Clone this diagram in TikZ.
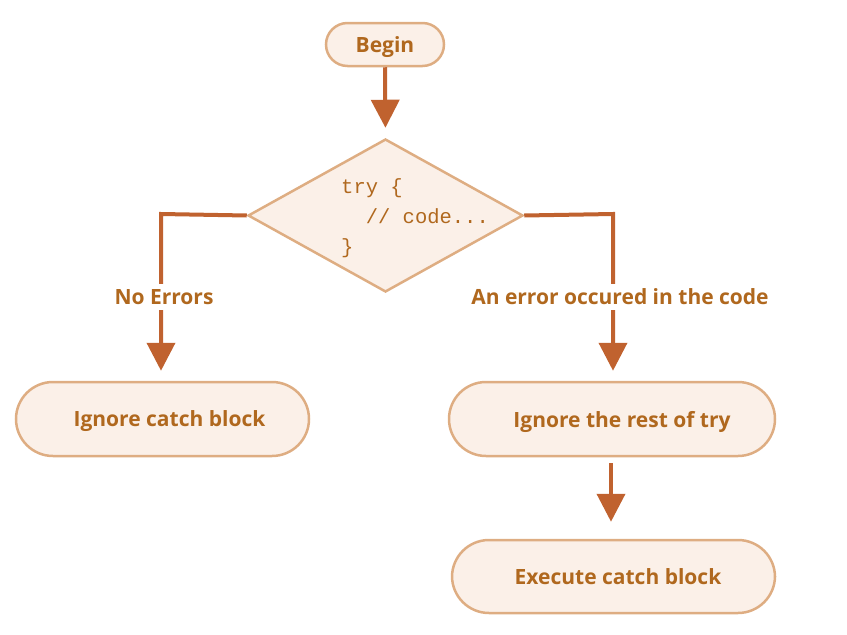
\documentclass[tikz,border=0pt]{standalone}
\usepackage{fontspec}
\setmainfont{Open Sans}
\setmonofont{Liberation Mono}
\usetikzlibrary{shapes.geometric,arrows.meta}
\definecolor{arrowc}{HTML}{C0622F}
\definecolor{borderc}{HTML}{DEAD82}
\definecolor{fillc}{HTML}{FBF0E8}
\definecolor{textc}{HTML}{B0681E}
\begin{document}
\begin{tikzpicture}[x=1pt,y=-1pt,
  box/.style={draw=borderc,fill=fillc,line width=2.5pt,rounded corners=#1,inner sep=0pt,
    text=textc,font=\fontsize{21}{25}\selectfont\bfseries,text depth=0pt},
  box/.default=37pt,
  conn/.style={draw=arrowc,line width=4pt},
  tip/.style={-{Triangle[length=28pt,width=28pt]}},
  lbl/.style={fill=white,text=textc,font=\fontsize{21}{25}\selectfont\bfseries,inner sep=5pt}]
\useasboundingbox (0,0) rectangle (847,635);
\node[box=21.5pt,minimum width=118pt,minimum height=43pt] (begin) at (385,44.5) {Begin};
\node[diamond,draw=borderc,fill=fillc,line width=2.5pt,minimum width=275pt,minimum height=153pt,inner sep=0pt] (try) at (385.5,215.5) {};
\node[anchor=west,align=left,text=textc,inner sep=0pt,font=\fontsize{20.5}{30}\selectfont\ttfamily] (code) at (341,218) {try \{\\\ \ // code...\\\}};
\node[box,minimum width=293pt,minimum height=74pt] (ign) at (162.5,419) {\hspace{14pt}Ignore catch block};
\node[box,minimum width=326pt,minimum height=74pt] (rest) at (612,419) {\hspace{20pt}Ignore the rest of try};
\node[box,minimum width=323pt,minimum height=73pt] (exec) at (613.5,576.5) {\hspace{9pt}Execute catch block};
\coordinate (lc) at (161,214);
\coordinate (rc) at (613,214);
\draw[conn,tip,shorten >=10pt] (begin.south) -- (try.north);
\draw[conn,tip,shorten >=10pt] (try.west) -- (lc) -- (lc |- ign.north);
\draw[conn,tip,shorten >=10pt] (try.east) -- (rc) -- (rc |- rest.north);
\node[lbl] (noerr) at (164,297) {No Errors};
\node[lbl] (err) at (620,297) {An error occured in the code};
\draw[conn,tip,shorten <=6pt,shorten >=17pt] (rest.south -| 611,0) -- (exec.north -| 611,0);
\end{tikzpicture}
\end{document}
